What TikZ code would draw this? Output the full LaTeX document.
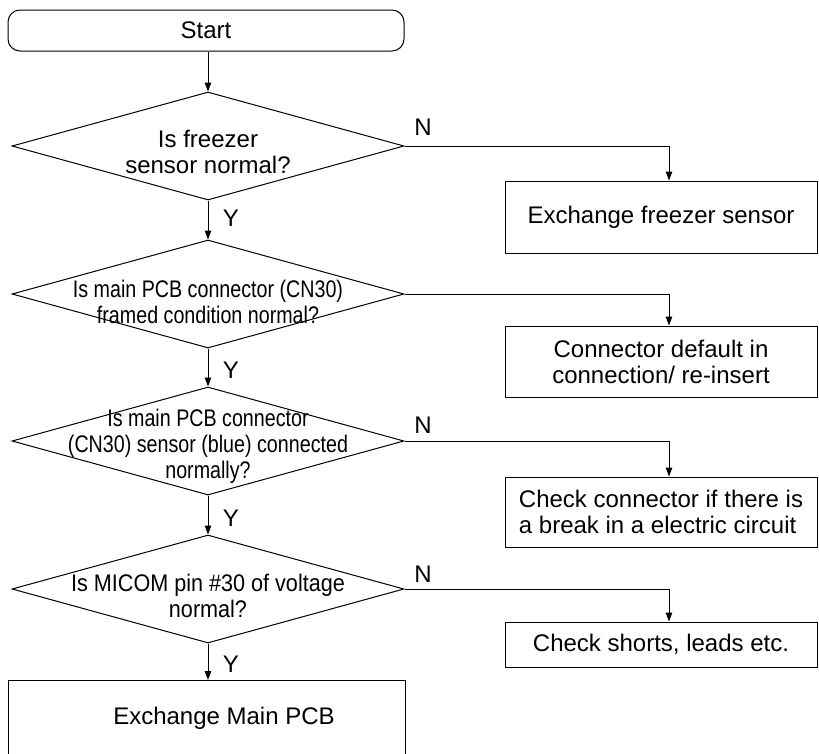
\documentclass[tikz,border=0pt]{standalone}
\usepackage{fontspec}
\setmainfont{Liberation Sans}
\newfontfamily\narrowA[FakeStretch=0.82]{Liberation Sans}
\newfontfamily\narrowB[FakeStretch=0.9]{Liberation Sans}
\usetikzlibrary{shapes.geometric,arrows.meta}
\begin{document}
\begin{tikzpicture}[x=1pt,y=-1pt,
  txt/.style={font=\fontsize{24}{26}\selectfont, align=center, inner sep=0pt},
  txtA/.style={font=\narrowA\fontsize{24}{26}\selectfont, align=center, inner sep=0pt},
  txtB/.style={font=\narrowB\fontsize{24}{26}\selectfont, align=center, inner sep=0pt},
  rbox/.style={draw, line width=1pt, minimum width=312pt, inner sep=0pt, font=\fontsize{24}{26}\selectfont, align=center},
  dec/.style={draw, diamond, line width=1pt, minimum width=392pt, minimum height=108pt, inner sep=0pt},
  arr/.style={line width=1pt, -{Triangle[length=9pt,width=6.5pt]}},
  lne/.style={line width=1pt}]
\clip (0,0) rectangle (819,753);
% start
\node[draw, line width=1pt, rounded corners=12pt, minimum width=396pt, minimum height=41pt, txt] (start) at (206,30.5) {Start};
% decisions
\node[dec] (d1) at (208,146) {};
\node[txt] (t1) at (208,152) {Is freezer\\sensor normal?};
\node[dec] (d2) at (208,294) {};
\node[txtA] (t2) at (208,302) {Is main PCB connector (CN30)\\framed condition normal?};
\node[dec] (d3) at (208,441) {};
\node[txtA] (t3) at (208,446) {Is main PCB connector\\(CN30) sensor (blue) connected\\normally?};
\node[dec] (d4) at (208,589) {};
\node[txtB] (t4) at (208,596) {Is MICOM pin \#30 of voltage\\normal?};
% right boxes
\node[rbox, minimum height=72pt] (b1) at (661,217) {Exchange freezer sensor};
\node[rbox, minimum height=71pt] (b2) at (661,361.5) {Connector default in\\connection/ re-insert};
\node[rbox, minimum height=70pt, align=left] (b3) at (661,512) {Check connector if there is\\a break in a electric circuit};
\node[rbox, minimum height=45pt] (b4) at (661,644.5) {Check shorts, leads etc.};
% main box
\node[draw, line width=1pt, minimum width=397pt, minimum height=160pt, anchor=north, inner sep=0pt] (main) at (206.5,680) {};
\node[txt] (mt) at (224,718) {Exchange Main PCB};
% connectors
\draw[arr] (start.south -| d1.north) -- (d1.north);
\draw[arr] (d1.south) -- (d2.north);
\draw[arr] (d2.south) -- (d3.north);
\draw[arr] (d3.south) -- (d4.north);
\draw[arr] (d4.south) -- (d4.south |- main.north);
\draw[arr] (d1.east) -| ([xshift=8pt]b1.north);
\draw[arr] (d2.east) -| ([xshift=8pt]b2.north);
\draw[arr] (d3.east) -| ([xshift=8pt]b3.north);
\draw[arr] (d4.east) -| ([xshift=8pt]b4.north);
% labels
\node[txt] (n1) at (423,127) {N};
\node[txt] (n3) at (423,425) {N};
\node[txt] (n4) at (423,574) {N};
\node[txt] (y1) at (231,218) {Y};
\node[txt] (y2) at (231,370) {Y};
\node[txt] (y3) at (231,518) {Y};
\node[txt] (y4) at (231,664) {Y};
\end{tikzpicture}
\end{document}
